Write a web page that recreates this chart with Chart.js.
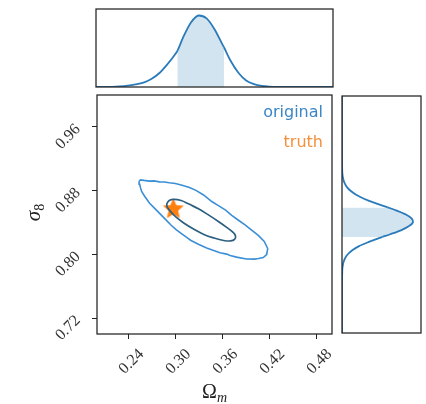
<!DOCTYPE html>
<html>
<head>
<meta charset="utf-8">
<script src="https://cdn.jsdelivr.net/npm/chart.js@4.4.0/dist/chart.umd.min.js"></script>
<style>
  html, body { margin: 0; padding: 0; background: #fff; }
  #wrap { position: relative; width: 426px; height: 404px; }
  #wrap canvas { position: absolute; left: 0; top: 0; }
</style>
</head>
<body>
<div id="wrap">
  <canvas id="mainPlot" width="426" height="404"></canvas>
  <canvas id="topPlot" width="426" height="404"></canvas>
  <canvas id="rightPlot" width="426" height="404"></canvas>
</div>
<script>
// marginal of Omega_m (peak normalised to 1)
var omegaGrid = [0.20, 0.21, 0.22, 0.23, 0.24, 0.25, 0.26, 0.27, 0.28, 0.29, 0.30, 0.303, 0.31, 0.32, 0.33,
                 0.34, 0.35, 0.36, 0.362, 0.37, 0.38, 0.39, 0.40, 0.41, 0.42, 0.43, 0.44, 0.45, 0.46, 0.48, 0.50];
var omegaDensity = [0, 0.001, 0.003, 0.008, 0.018, 0.035, 0.060, 0.11, 0.19, 0.31, 0.45, 0.50, 0.68, 0.89, 0.99,
                    0.95, 0.80, 0.59, 0.55, 0.37, 0.20, 0.09, 0.04, 0.016, 0.006, 0.002, 0.001, 0, 0, 0, 0];
var omegaBand = [0.303, 0.362];

// marginal of sigma_8
var sigmaGrid = [0.70, 0.76, 0.78, 0.785, 0.79, 0.795, 0.80, 0.805, 0.81, 0.815, 0.82, 0.8216, 0.825, 0.83, 0.835,
                 0.84, 0.845, 0.85, 0.855, 0.859, 0.865, 0.87, 0.875, 0.88, 0.885, 0.89, 0.895, 0.90, 0.905, 0.92, 1.00];
var sigmaDensity = [0, 0, 0.004, 0.010, 0.022, 0.045, 0.085, 0.15, 0.24, 0.37, 0.52, 0.57, 0.68, 0.83, 0.94,
                    1.0, 0.98, 0.90, 0.77, 0.645, 0.45, 0.31, 0.20, 0.12, 0.067, 0.035, 0.017, 0.0075, 0.003, 0, 0];
var sigmaBand = [0.8216, 0.859];

// 2d contours
var outerOmega = [0.2537, 0.2556, 0.2600, 0.2669, 0.2730, 0.2796, 0.2860, 0.2922, 0.3000, 0.3086, 0.3180, 0.3263,
                  0.3360, 0.3465, 0.3550, 0.3642, 0.3720, 0.3806, 0.3890, 0.3970, 0.4059, 0.4135, 0.4179, 0.4170,
                  0.4166, 0.4122, 0.4060, 0.4008, 0.3907, 0.3781, 0.3700, 0.3655, 0.3570, 0.3490, 0.3400, 0.3301,
                  0.3200, 0.3140, 0.3074, 0.3010, 0.2947, 0.2859, 0.2758, 0.2669, 0.2606, 0.2570, 0.2556, 0.2545, 0.2537];
var outerSigma = [0.8917, 0.8935, 0.8928, 0.8919, 0.8922, 0.8910, 0.8908, 0.8898, 0.8890, 0.8866, 0.8840, 0.8803,
                  0.8745, 0.8663, 0.8612, 0.8555, 0.8490, 0.8428, 0.8370, 0.8308, 0.8238, 0.8162, 0.8073, 0.8020,
                  0.7997, 0.7959, 0.7948, 0.7940, 0.7942, 0.7965, 0.7985, 0.8003, 0.8020, 0.8047, 0.8080, 0.8124,
                  0.8174, 0.8215, 0.8263, 0.8310, 0.8365, 0.8454, 0.8555, 0.8644, 0.8733, 0.8790, 0.8834, 0.8880, 0.8917];
var innerOmega = [0.3175, 0.3301, 0.3427, 0.3554, 0.3655, 0.3730, 0.3768, 0.3756, 0.3705, 0.3617, 0.3490, 0.3364,
                  0.3238, 0.3112, 0.3010, 0.2935, 0.2897, 0.2891, 0.2922, 0.2985, 0.3074, 0.3175];
var innerSigma = [0.8631, 0.8568, 0.8492, 0.8409, 0.8339, 0.8282, 0.8231, 0.8187, 0.8168, 0.8174, 0.8206, 0.8250,
                  0.8314, 0.8390, 0.8466, 0.8542, 0.8593, 0.8631, 0.8676, 0.8691, 0.8676, 0.8631];
var truthOmega = [0.2975];
var truthSigma = [0.858];

var xTickValues = [0.24, 0.30, 0.36, 0.42, 0.48];
var yTickValues = [0.72, 0.80, 0.88, 0.96];
var legendNames = ['original', 'truth'];
var legendColors = ['#3a86c6', '#f5913c'];

var lineBlue = '#2b7bba';
var bandFill = 'rgba(31,119,180,0.2)';
var frameColor = '#222';

Chart.defaults.animation = false;
Chart.defaults.responsive = false;
Chart.defaults.devicePixelRatio = 1;
Chart.defaults.plugins.legend.display = false;
Chart.defaults.plugins.tooltip.enabled = false;

function zipPoints(xs, ys) {
  return xs.map(function (x, i) { return {x: x, y: ys[i]}; });
}

function inside(a, b, band) {
  return a >= band[0] - 1e-9 && b <= band[1] + 1e-9;
}

// box around each panel
var frame = {
  id: 'frame',
  afterDraw: function (chart) {
    var a = chart.chartArea, ctx = chart.ctx;
    ctx.save();
    ctx.strokeStyle = frameColor;
    ctx.lineWidth = 1.25;
    ctx.strokeRect(a.left, a.top, a.right - a.left, a.bottom - a.top);
    ctx.restore();
  }
};

function starMarker(size, color) {
  var c = document.createElement('canvas');
  c.width = size; c.height = size;
  var g = c.getContext('2d');
  var r = size / 2, ri = r * 0.46;
  g.beginPath();
  for (var i = 0; i < 10; i++) {
    var rad = i % 2 ? ri : r;
    var ang = -Math.PI / 2 + i * Math.PI / 5;
    g.lineTo(r + rad * Math.cos(ang), r + 1 + rad * Math.sin(ang));
  }
  g.closePath();
  g.fillStyle = color;
  g.fill();
  return c;
}

var legendText = {
  id: 'legendText',
  afterDatasetsDraw: function (chart) {
    var a = chart.chartArea, ctx = chart.ctx;
    ctx.save();
    ctx.font = '16px "DejaVu Sans"';
    ctx.textAlign = 'right';
    legendNames.forEach(function (name, i) {
      ctx.fillStyle = legendColors[i];
      ctx.fillText(name, a.right - 9, a.top + 22 + i * 30);
    });
    ctx.restore();
  }
};

var axisTitles = {
  id: 'axisTitles',
  afterDraw: function (chart) {
    var a = chart.chartArea, ctx = chart.ctx;
    ctx.save();
    ctx.fillStyle = '#222';
    ctx.textAlign = 'left';
    // Omega_m under the x axis
    var big = '20px "Liberation Serif"', small = 'italic 14px "Liberation Serif"';
    ctx.font = big;
    var w1 = ctx.measureText('Ω').width;
    ctx.font = small;
    var w2 = ctx.measureText('m').width;
    var x0 = (a.left + a.right) / 2 - (w1 + w2) / 2;
    ctx.font = big;
    ctx.fillText('Ω', x0, 398);
    ctx.font = small;
    ctx.fillText('m', x0 + w1, 402);
    // sigma_8 left of the y axis
    ctx.translate(40, (a.top + a.bottom) / 2 - 2);
    ctx.rotate(-Math.PI / 2);
    ctx.font = 'italic 21px "Liberation Serif"';
    var s1 = ctx.measureText('σ').width;
    ctx.font = '14px "Liberation Serif"';
    var s2 = ctx.measureText('8').width;
    var y0 = -(s1 + s2) / 2;
    ctx.font = 'italic 21px "Liberation Serif"';
    ctx.fillText('σ', y0, 0);
    ctx.font = '14px "Liberation Serif"';
    ctx.fillText('8', y0 + s1, 4);
    ctx.restore();
  }
};

var tickFont = {family: '"Liberation Serif"', size: 16};

new Chart(document.getElementById('mainPlot'), {
  type: 'scatter',
  data: {
    datasets: [{
      label: 'original',
      data: zipPoints(outerOmega, outerSigma),
      showLine: true,
      borderColor: '#3b8fd6',
      borderWidth: 1.6,
      pointRadius: 0,
      tension: 0
    }, {
      label: 'inner',
      data: zipPoints(innerOmega, innerSigma),
      showLine: true,
      borderColor: '#2d5f80',
      borderWidth: 1.7,
      pointRadius: 0,
      tension: 0.4
    }, {
      label: 'truth',
      data: zipPoints(truthOmega, truthSigma),
      pointStyle: starMarker(22, '#ff7f0e'),
      pointRadius: 11
    }]
  },
  options: {
    layout: {padding: {top: 95, right: 94, left: 0, bottom: 0}},
    scales: {
      x: {
        type: 'linear', min: 0.20, max: 0.50,
        afterBuildTicks: function (s) { s.ticks = xTickValues.map(function (v) { return {value: v}; }); },
        afterFit: function (s) { s.height = 70; },
        border: {display: false},
        grid: {drawOnChartArea: false, drawTicks: true, tickLength: 5, color: frameColor},
        ticks: {
          minRotation: 45, maxRotation: 45, labelOffset: 13, padding: 6,
          color: '#333', font: tickFont,
          callback: function (v) { return v.toFixed(2); }
        }
      },
      y: {
        type: 'linear', min: 0.70, max: 1.00,
        afterBuildTicks: function (s) { s.ticks = yTickValues.map(function (v) { return {value: v}; }); },
        afterFit: function (s) { s.width = 97; },
        border: {display: false},
        grid: {drawOnChartArea: false, drawTicks: true, tickLength: 5, color: frameColor},
        ticks: {
          minRotation: 45, maxRotation: 45, padding: 14,
          color: '#333', font: tickFont,
          callback: function (v) { return v.toFixed(2); }
        }
      }
    }
  },
  plugins: [frame, legendText, axisTitles]
});

new Chart(document.getElementById('topPlot'), {
  type: 'line',
  data: {
    datasets: [{
      data: zipPoints(omegaGrid, omegaDensity),
      borderColor: lineBlue,
      borderWidth: 1.8,
      pointRadius: 0,
      cubicInterpolationMode: 'monotone',
      fill: 'origin',
      backgroundColor: 'rgba(0,0,0,0)',
      segment: {
        backgroundColor: function (c) {
          return inside(c.p0.parsed.x, c.p1.parsed.x, omegaBand) ? bandFill : 'rgba(0,0,0,0)';
        }
      }
    }]
  },
  options: {
    layout: {padding: {left: 96, top: 9, right: 93, bottom: 317}},
    scales: {
      x: {type: 'linear', min: 0.20, max: 0.50, display: false},
      y: {type: 'linear', min: 0, max: 1.08, display: false}
    }
  },
  plugins: [frame]
});

new Chart(document.getElementById('rightPlot'), {
  type: 'line',
  data: {
    datasets: [{
      data: zipPoints(sigmaDensity, sigmaGrid),
      borderColor: lineBlue,
      borderWidth: 1.8,
      pointRadius: 0,
      tension: 0.3,
      fill: 'origin',
      backgroundColor: 'rgba(0,0,0,0)',
      segment: {
        backgroundColor: function (c) {
          return inside(c.p0.parsed.y, c.p1.parsed.y, sigmaBand) ? bandFill : 'rgba(0,0,0,0)';
        }
      }
    }]
  },
  options: {
    indexAxis: 'y',
    layout: {padding: {left: 342, top: 96, right: 5, bottom: 71}},
    scales: {
      x: {type: 'linear', min: 0, max: 1.113, display: false},
      y: {type: 'linear', min: 0.70, max: 1.00, display: false}
    }
  },
  plugins: [frame]
});
</script>
</body>
</html>
